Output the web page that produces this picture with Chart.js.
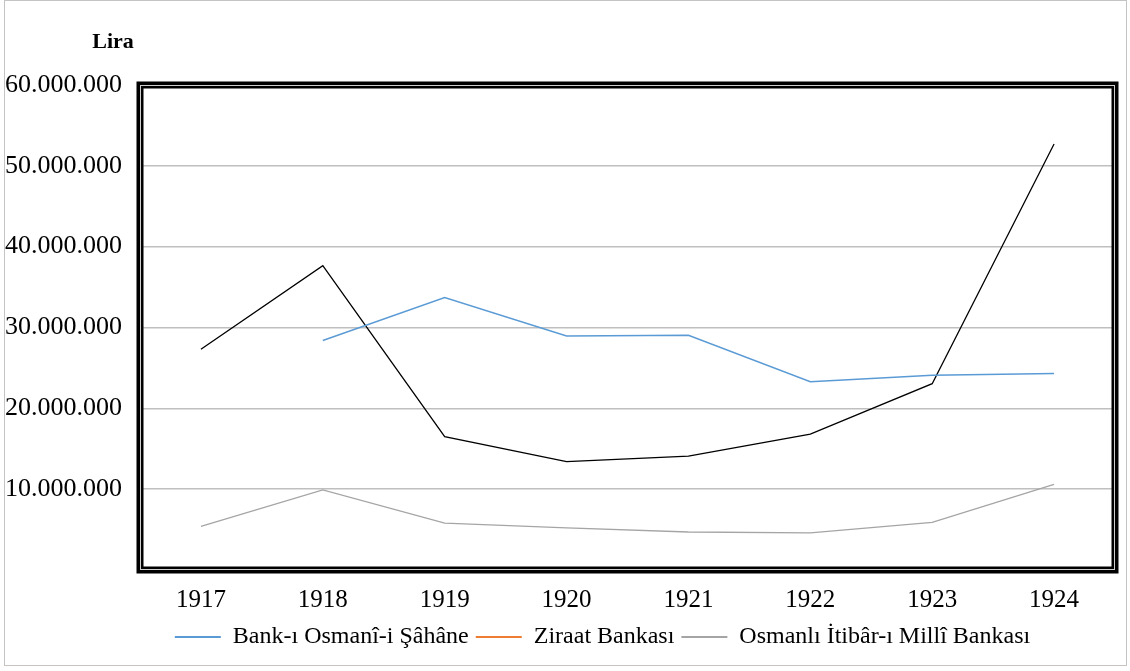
<!DOCTYPE html>
<html>
<head>
<meta charset="utf-8">
<script src="https://cdn.jsdelivr.net/npm/chart.js@4"></script>
<style>
  body { margin: 0; background: #fff; }
  #frame { position: absolute; left: 4px; top: 0; width: 1123px; height: 666px; border: 1px solid #c4c4c4; box-sizing: border-box; }
  #wrap { position: absolute; left: 0; top: 0; width: 1130px; height: 671px; }
</style>
</head>
<body>
<div id="frame"></div>
<div id="wrap"><canvas id="c" width="1130" height="671"></canvas></div>
<script>
const years = ['1917', '1918', '1919', '1920', '1921', '1922', '1923', '1924'];

const bankOsmani = [null, 28400000, 33700000, 28950000, 29050000, 23300000, 24100000, 24300000];
const ziraat = [27300000, 37650000, 16500000, 13400000, 14100000, 16800000, 23050000, 52700000];
const itibarMilli = [5400000, 9900000, 5800000, 5200000, 4700000, 4600000, 5900000, 10600000];

const seriesNames = ['Bank-ı Osmanî-i Şâhâne', 'Ziraat Bankası', 'Osmanlı İtibâr-ı Millî Bankası'];
const lineColors = ['#5B9BD5', '#000000', '#A5A5A5'];
const legendColors = ['#5B9BD5', '#ED7D31', '#A5A5A5'];

const yTicks = [0, 10000000, 20000000, 30000000, 40000000, 50000000, 60000000];

const serif = "'Liberation Serif', 'Times New Roman', serif";

function fmt(v) {
    return String(v).replace(/\B(?=(\d{3})+(?!\d))/g, '.');
}

// thick double frame round the plot area, plus the "Lira" label
const frame = {
    id: 'frame',
    afterLayout(chart) {
        // nudge the legend up and left, like the original
        const l = chart.legend;
        l.top -= 12; l.bottom -= 12;
        l.left -= 25; l.right -= 25;
    },
    afterDraw(chart) {
        const { ctx, chartArea: a } = chart;
        ctx.save();
        ctx.strokeStyle = '#000';
        ctx.lineWidth = 7;
        ctx.strokeRect(a.left, a.top, a.right - a.left, a.bottom - a.top);
        ctx.strokeStyle = '#cfcfcf';
        ctx.lineWidth = 1;
        ctx.strokeRect(a.left + 0.5, a.top + 0.5, a.right - a.left - 1, a.bottom - a.top - 1);
        ctx.fillStyle = '#000';
        ctx.font = 'bold 22px ' + serif;
        ctx.textAlign = 'center';
        ctx.textBaseline = 'middle';
        ctx.fillText('Lira', 113, 42);
        ctx.restore();
    }
};

const datasets = [bankOsmani, ziraat, itibarMilli].map((d, i) => ({
    label: seriesNames[i],
    data: d,
    borderColor: lineColors[i],
    backgroundColor: lineColors[i],
    borderWidth: i === 0 ? 1.5 : 1.3,
    pointRadius: 0,
    tension: 0,
    spanGaps: false
}));

new Chart(document.getElementById('c'), {
    type: 'line',
    data: { labels: years, datasets },
    options: {
        responsive: false,
        animation: false,
        layout: { padding: { left: 5, right: 15, top: 85, bottom: 0 } },
        scales: {
            x: {
                offset: true,
                grid: { display: false, drawTicks: false, offset: true },
                border: { display: false },
                ticks: { color: '#000', font: { family: serif, size: 25 }, padding: 15 }
            },
            y: {
                min: 0,
                max: 60000000,
                afterFit(axis) { axis.width = 135; },
                afterBuildTicks(axis) { axis.ticks = yTicks.map(v => ({ value: v })); },
                grid: { color: '#bfbfbf', lineWidth: 1.5, drawTicks: false },
                border: { display: false },
                ticks: {
                    color: '#000',
                    crossAlign: 'far',
                    padding: 0,
                    font: { family: serif, size: 26 },
                    callback: v => v === 0 ? '' : fmt(v)
                }
            }
        },
        plugins: {
            legend: {
                position: 'bottom',
                fullSize: false,
                labels: {
                    color: '#000',
                    font: { family: serif, size: 24 },
                    boxWidth: 46,
                    boxHeight: 2,
                    padding: 7,
                    generateLabels(chart) {
                        return chart.data.datasets.map((ds, i) => ({
                            text: ds.label,
                            fillStyle: legendColors[i],
                            strokeStyle: legendColors[i],
                            lineWidth: 0,
                            fontColor: '#000',
                            datasetIndex: i
                        }));
                    }
                }
            },
            tooltip: { enabled: false }
        }
    },
    plugins: [frame]
});
</script>
</body>
</html>
